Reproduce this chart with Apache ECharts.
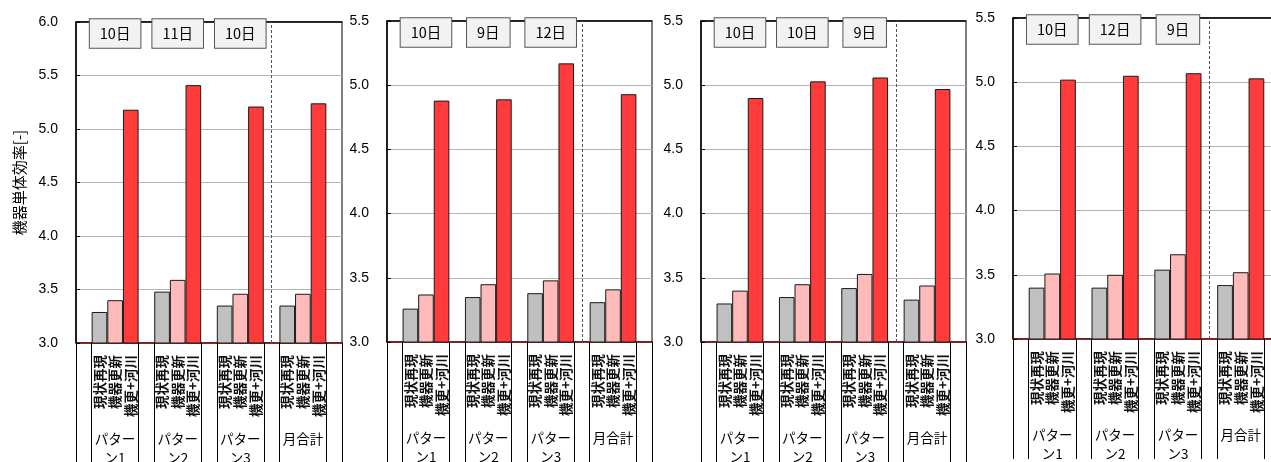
<!DOCTYPE html>
<html>
<head>
<meta charset="utf-8">
<script src="https://cdn.jsdelivr.net/npm/echarts@6/dist/echarts.min.js"></script>
<style>
html, body { margin: 0; padding: 0; background: #fff; }
#chart { width: 1271px; height: 462px; }
</style>
</head>
<body>
<div id="chart"></div>
<script>
// Category labels
const caseLabels = ['現状再現', '機器更新', '機更+河川'];
const groupLabels = ['パター\nン1', 'パター\nン2', 'パター\nン3', '月合計'];
const yAxisTitle = '機器単体効率[-]';

// Panel 1
const panel1Current = [3.29, 3.48, 3.35, 3.35];
const panel1Renewal = [3.40, 3.59, 3.46, 3.46];
const panel1River   = [5.18, 5.41, 5.21, 5.24];
const panel1Days    = ['10日', '11日', '10日'];
const panel1Max = 6.0;

// Panel 2
const panel2Current = [3.26, 3.35, 3.38, 3.31];
const panel2Renewal = [3.37, 3.45, 3.48, 3.41];
const panel2River   = [4.88, 4.89, 5.17, 4.93];
const panel2Days    = ['10日', '9日', '12日'];
const panel2Max = 5.5;

// Panel 3
const panel3Current = [3.30, 3.35, 3.42, 3.33];
const panel3Renewal = [3.40, 3.45, 3.53, 3.44];
const panel3River   = [4.90, 5.03, 5.06, 4.97];
const panel3Days    = ['10日', '10日', '9日'];
const panel3Max = 5.5;

// Panel 4
const panel4Current = [3.40, 3.40, 3.54, 3.42];
const panel4Renewal = [3.51, 3.50, 3.66, 3.52];
const panel4River   = [5.02, 5.05, 5.07, 5.03];
const panel4Days    = ['10日', '12日', '9日'];
const panel4Max = 5.5;

const yMin = 3.0;
const yStep = 0.5;

const panels = [
  { current: panel1Current, renewal: panel1Renewal, river: panel1River, days: panel1Days, max: panel1Max },
  { current: panel2Current, renewal: panel2Renewal, river: panel2River, days: panel2Days, max: panel2Max },
  { current: panel3Current, renewal: panel3Renewal, river: panel3River, days: panel3Days, max: panel3Max },
  { current: panel4Current, renewal: panel4Renewal, river: panel4River, days: panel4Days, max: panel4Max }
];

const grids = [
  { left: 76,   top: 22, width: 266, height: 321 },
  { left: 387,  top: 21, width: 265, height: 321 },
  { left: 701,  top: 21, width: 265, height: 321 },
  { left: 1013, top: 18, width: 267, height: 321 }
];

const barColors = ['#c0c0c0', '#ffbaba', '#ff3b3b'];
const jpFont = '"Noto Sans CJK JP", "Noto Sans", sans-serif';
const numFont = '"Liberation Sans", Arial, sans-serif';

// One slot per bar, with an empty slot before each group and after the last
function buildSlots(p) {
  const cats = [], groupCats = [], dayCats = [], data = [];
  for (let g = 0; g < 4; g++) {
    cats.push(''); groupCats.push(''); dayCats.push(''); data.push('-');
    const vals = [p.current[g], p.renewal[g], p.river[g]];
    for (let k = 0; k < 3; k++) {
      cats.push(caseLabels[k]);
      groupCats.push(k === 1 ? groupLabels[g] : '');
      dayCats.push(k === 1 && g < p.days.length ? p.days[g] : '');
      data.push({ value: vals[k], itemStyle: { color: barColors[k] } });
    }
  }
  cats.push(''); groupCats.push(''); dayCats.push(''); data.push('-');
  return { cats, groupCats, dayCats, data };
}

const option = {
  animation: false,
  backgroundColor: '#fff',
  grid: [],
  xAxis: [],
  yAxis: [],
  series: []
};

panels.forEach((p, i) => {
  const s = buildSlots(p);
  option.grid.push(Object.assign({
    show: true, borderColor: '#000', borderWidth: 1, backgroundColor: 'transparent',
    containLabel: false, outerBoundsMode: 'none'
  }, grids[i]));

  const base = option.xAxis.length;
  // case labels + separator lines of the label table
  option.xAxis.push({
    type: 'category', gridIndex: i, position: 'bottom', data: s.cats,
    axisLine: { show: true, lineStyle: { color: '#6b0000', width: 1.5 } },
    axisTick: { show: true, length: 120, interval: (idx) => idx % 4 === 0 || idx % 4 === 1, lineStyle: { color: '#000', width: 1 } },
    axisLabel: { interval: 0, rotate: 90, margin: 12, fontSize: 13.5, fontWeight: 'bold', color: '#111', fontFamily: jpFont },
    splitLine: { show: false }
  });
  // group labels
  option.xAxis.push({
    type: 'category', gridIndex: i, position: 'bottom', data: s.groupCats,
    axisLine: { show: false }, axisTick: { show: false }, splitLine: { show: false },
    axisLabel: { interval: 0, margin: 86, fontSize: 13.5, lineHeight: 19, color: '#000', fontFamily: jpFont, verticalAlign: 'top' }
  });
  // day count boxes along the top
  option.xAxis.push({
    type: 'category', gridIndex: i, position: 'top', data: s.dayCats,
    axisLine: { show: true, lineStyle: { color: '#000', width: 1.5 } },
    axisTick: { show: false }, splitLine: { show: false },
    axisLabel: {
      interval: 0, inside: true, margin: 3,
      formatter: (v) => (v ? '{box|' + v + '}' : ''),
      rich: {
        box: {
          fontSize: 14.5, lineHeight: 17, color: '#000', fontFamily: jpFont,
          backgroundColor: '#f2f2f2', borderColor: '#555', borderWidth: 1, padding: [7, 10, 7, 10]
        }
      }
    }
  });

  option.yAxis.push({
    type: 'value', gridIndex: i, min: yMin, max: p.max, interval: yStep,
    axisLine: { show: true, lineStyle: { color: '#000', width: 1.5 } },
    axisTick: { show: true, inside: true, length: 4, lineStyle: { color: '#000' } },
    axisLabel: { formatter: (v) => v.toFixed(1), fontSize: 14, color: '#000', fontFamily: numFont, margin: 18 },
    splitLine: { show: true, lineStyle: { color: '#b4b4b4', width: 1 } },
    name: i === 0 ? yAxisTitle : '',
    nameLocation: 'middle', nameRotate: 90, nameGap: 49,
    nameTextStyle: { fontSize: 15, color: '#000', fontFamily: jpFont }
  });

  option.series.push({
    type: 'bar', xAxisIndex: base, yAxisIndex: i,
    data: s.data,
    barWidth: '100%', barCategoryGap: 0,
    itemStyle: { borderColor: '#1a1a1a', borderWidth: 1 },
    markLine: {
      silent: true, symbol: 'none', label: { show: false },
      lineStyle: { color: '#555', type: [3, 2], width: 1 },
      data: [{ xAxis: 12 }]
    }
  });
});

const chart = echarts.init(document.getElementById('chart'), null, { renderer: 'canvas' });
chart.setOption(option);
</script>
</body>
</html>
